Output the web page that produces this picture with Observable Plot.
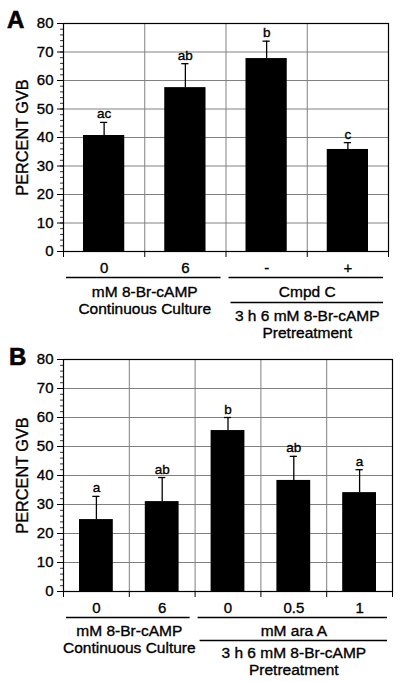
<!DOCTYPE html>
<html><head><meta charset="utf-8">
<script src="https://cdn.jsdelivr.net/npm/d3@7"></script>
<script src="https://cdn.jsdelivr.net/npm/@observablehq/plot@0.6"></script>
<style>
body{margin:0;background:#fff;font-family:"Liberation Sans",Arial,sans-serif;}
#root{position:relative;width:400px;height:682px;overflow:hidden;}
.panel{position:relative;width:400px;height:341px;}
.tag{position:absolute;font-weight:bold;font-size:24px;line-height:1;color:#000;-webkit-text-stroke:0.6px #000;}
svg{display:block}
svg text{stroke:#000;stroke-width:0.35px;}
</style></head><body>
<div id="root"></div>
<script>
// Panel A data
const catsA = ["0", "6", "-", "+"];
const valsA = [40.7, 57.5, 67.7, 35.8];
const semA = [4.6, 8.4, 6.1, 2.4];
const sigA = ["ac", "ab", "b", "c"];
const groupsA = [
  {start: 0, end: 2, title: "mM 8-Br-cAMP\nContinuous Culture"},
  {start: 2, end: 4, title: "Cmpd C", sub: "3 h 6 mM 8-Br-cAMP\nPretreatment"}
];
// Panel B data
const catsB = ["0", "6", "0", "0.5", "1"];
const valsB = [24.8, 31.0, 55.5, 38.3, 34.1];
const semB = [8.0, 8.3, 4.5, 8.3, 7.9];
const sigB = ["a", "ab", "b", "ab", "a"];
const groupsB = [
  {start: 0, end: 2, title: "mM 8-Br-cAMP\nContinuous Culture"},
  {start: 2, end: 5, title: "mM ara A", sub: "3 h 6 mM 8-Br-cAMP\nPretreatment"}
];
const yTicks = d3.range(0, 81, 10);
const yMinor = d3.range(0, 81, 2);
const yLabel = "PERCENT GVB";

function panel(o) {
  const n = o.cats.length;
  const data = o.cats.map((c, i) => ({i, cat: c, v: o.vals[i], top: o.vals[i] + o.sem[i], sig: o.sig[i]}));
  const g = o.groups;
  const font = "'Liberation Sans', Arial, Helvetica, sans-serif";
  const chart = Plot.plot({
    width: 400, height: 341,
    marginTop: o.mt, marginBottom: o.mb, marginLeft: 63, marginRight: o.mr,
    style: {fontFamily: font, fontSize: "15px", color: "#000", background: "#fff", overflow: "visible"},
    x: {domain: [0, n], axis: null},
    y: {domain: [0, 80], axis: null},
    marks: [
      Plot.ruleY(yTicks.slice(1, -1), {stroke: "#808080", strokeWidth: 1}),
      Plot.ruleX(d3.range(1, n), {stroke: "#808080", strokeWidth: 1}),
      Plot.rectY(data, {x1: "i", x2: d => d.i + 1, y1: 0, y2: "v", fill: "#000", insetLeft: o.inset, insetRight: o.inset}),
      Plot.ruleX(data, {x: d => d.i + 0.5, y1: "v", y2: "top", stroke: "#000", strokeWidth: 1.3}),
      Plot.ruleY(data, {y: "top", x1: d => d.i + 0.5, x2: d => d.i + 0.5, insetLeft: -3.6, insetRight: -3.6, stroke: "#000", strokeWidth: 1.3}),
      Plot.text(data, {x: d => d.i + 0.5, y: "top", text: "sig", dy: -4, lineAnchor: "bottom", fontSize: 13.5}),
      Plot.frame({stroke: "#000", strokeWidth: 1.2}),
      Plot.axisY({ticks: yMinor, tickSize: 3, tickFormat: () => "", label: null, strokeWidth: 0.8}),
      Plot.axisY({ticks: yTicks, tickSize: 6, tickPadding: 4, label: null, fontSize: 15}),
      Plot.axisX({ticks: d3.range(0, n + 1), tickSize: 6, tickFormat: () => "", label: null}),
      Plot.text(data, {x: d => d.i + 0.5, y: 0, text: "cat", dy: 17, lineAnchor: "middle", fontSize: 15}),
      Plot.ruleY(g, {x1: "start", x2: "end", y: 0, dy: o.rule1, insetLeft: 3, insetRight: 5, stroke: "#000", strokeWidth: 1.3}),
      Plot.text([g[0]], {x: d => (d.start + d.end) / 2, y: 0, text: "title", dy: o.t1, lineAnchor: "top", lineHeight: 1.07, fontSize: 15.5}),
      Plot.text([g[1]], {x: d => (d.start + d.end) / 2, y: 0, text: "title", dy: o.t1, lineAnchor: "top", fontSize: 15.5}),
      Plot.ruleY([g[1]], {x1: "start", x2: "end", y: 0, dy: o.rule2, insetLeft: 5, insetRight: 5, stroke: "#000", strokeWidth: 1.3}),
      Plot.text([g[1]], {x: d => (d.start + d.end) / 2, y: 0, text: "sub", dy: o.t2, lineAnchor: "top", lineHeight: 1.07, fontSize: 15.5}),
      Plot.text([yLabel], {frameAnchor: "left", dx: -41, rotate: -90, textAnchor: "middle", lineAnchor: "middle", fontSize: 16.3})
    ]
  });
  const wrap = document.createElement("div");
  wrap.className = "panel";
  wrap.appendChild(chart);
  const tag = document.createElement("div");
  tag.className = "tag";
  tag.textContent = o.tag;
  tag.style.left = o.tagX + "px";
  tag.style.top = o.tagY + "px";
  wrap.appendChild(tag);
  return wrap;
}

const root = document.getElementById("root");
root.appendChild(panel({cats: catsA, vals: valsA, sem: semA, sig: sigA, groups: groupsA, tag: "A",
  mt: 23, mb: 90, mr: 12, inset: 20, rule1: 26, t1: 34, rule2: 51, t2: 58, tagX: 7, tagY: 8}));
root.appendChild(panel({cats: catsB, vals: valsB, sem: semB, sig: sigB, groups: groupsB, tag: "B",
  mt: 18, mb: 91, mr: 8, inset: 16, rule1: 26, t1: 33, rule2: 49, t2: 55, tagX: 9, tagY: 4}));
</script>
</body></html>
